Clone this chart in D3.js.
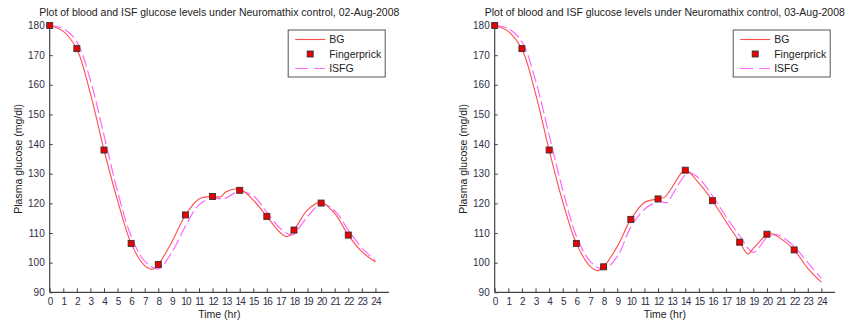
<!DOCTYPE html>
<html>
<head>
<meta charset="utf-8">
<script src="https://cdn.jsdelivr.net/npm/d3@7"></script>
<style>
  body { margin: 0; background: #fff; }
  text { font-family: "Liberation Sans", Arial, sans-serif; }
</style>
</head>
<body>
<div class="chart"></div>
<script>
// chart data
var xTickValues = [0,1,2,3,4,5,6,7,8,9,10,11,12,13,14,15,16,17,18,19,20,21,22,23,24];
var yTickValues = [90,100,110,120,130,140,150,160,170,180];
var legendLabels = ["BG", "Fingerprick", "ISFG"];
var titles = [
  "Plot of blood and ISF glucose levels under Neuromathix control, 02-Aug-2008",
  "Plot of blood and ISF glucose levels under Neuromathix control, 03-Aug-2008"
];

var fingerHours = [0,2,4,6,8,10,12,14,16,18,20,22];

// 02-Aug
var finger1 = [180,172.2,138,106.5,99.4,116.1,122.3,124.4,115.6,111,120.1,109.3];
var bgHours1 = [0,1,2,3,4,5,6,7,7.6,8,9,10,11,12,12.6,13,14,15,16,17,17.5,18,19,20,21,22,23,24];
var bg1 = [180,178,172,157,138,121,106.5,99,97.8,99.4,107,116,121.5,122.3,122.2,123.9,124.8,121.1,115.6,110.1,108.8,111,117.8,120.4,116.6,109.3,103.7,100.2];
var isfgHours1 = [0,1,2,3,4,5,6,7,8,9,10,11,12,12.8,13,14,15,16,17,17.8,18,19,20,21,22,23,24];
var isfg1 = [180,179,174.5,161.5,143,124,109,100.5,97.9,103.5,112.3,119.5,121.8,121.4,121.8,124,122.5,117,111.5,109.3,109.6,115.5,119.8,117.5,111,105,100.7];

// 03-Aug
var finger2 = [180,172.2,138,106.5,98.6,114.6,121.5,131.2,120.9,106.9,109.6,104.3];
var bgHours2 = [0,1,2,3,4,5,6,7,7.6,8,9,10,11,12,12.5,13,14,15,16,17,18,18.6,19,20,20.2,21,22,23,24];
var bg2 = [180,178,172,157,138,120.5,106.5,98.8,97.3,98.6,105.4,114.6,120.3,121.5,122.1,125.2,131.2,126.8,120.9,113.8,106.9,102.9,104.8,109.6,110,108.2,104.3,98.1,93.4];
var isfgHours2 = [0,1,2,3,4,5,6,7,8,9,10,11,12,12.7,13,14,14.3,15,16,17,18,19,20,20.5,21,22,23,24];
var isfg2 = [180,179,174.5,161.5,143,124.5,109,100.5,97.8,102,112,118,120.6,120.3,122.5,129.6,130.3,128.5,122.5,115.5,109,103.5,108.5,109.5,109,105.5,100,94.7];

var svgWidth = 847;
var svgHeight = 325;

var svg = d3.select(".chart")
  .append("svg")
  .attr("width", svgWidth)
  .attr("height", svgHeight);

function zip(xs, ys) {
  return xs.map(function(x, i) { return { t: x, v: ys[i] }; });
}

function drawChart(left, right, title, finger, bgHours, bg, isfgHours, isfg) {
  var top = 25.5, bottom = 292.3;
  var x = d3.scaleLinear().domain([0, 25]).range([left, right]);
  var y = d3.scaleLinear().domain([90, 180]).range([bottom, top]);
  var g = svg.append("g");

  // axes, ticks pointing inward like matlab
  var bottomAxis = d3.axisBottom(x).tickValues(xTickValues).tickSize(-4).tickPadding(6).tickFormat(d3.format("d"));
  var leftAxis = d3.axisLeft(y).tickValues(yTickValues).tickSize(-3).tickPadding(5).tickFormat(d3.format("d"));

  var xa = g.append("g")
    .attr("transform", "translate(0," + bottom + ")")
    .call(bottomAxis);
  var ya = g.append("g")
    .attr("transform", "translate(" + left + ",0)")
    .call(leftAxis);

  [xa, ya].forEach(function(a) {
    a.select(".domain").attr("stroke", "#444").attr("stroke-width", 1.2);
    a.selectAll(".tick line").attr("stroke", "#444");
    a.selectAll(".tick text")
      .attr("fill", "#2e2e48")
      .style("font-size", "10px");
  });
  xa.selectAll(".tick text").style("letter-spacing", "-0.9px");
  ya.select(".domain").attr("d", "M0," + bottom + "V" + top);
  xa.select(".domain").attr("d", "M" + left + ",0H" + right);

  var line = d3.line()
    .x(function(d) { return x(d.t); })
    .y(function(d) { return y(d.v); })
    .curve(d3.curveCatmullRom.alpha(0.5));

  g.append("path")
    .datum(zip(isfgHours, isfg))
    .attr("d", line)
    .attr("fill", "none")
    .attr("stroke", "#ff66ff")
    .attr("stroke-width", 1.2)
    .attr("stroke-dasharray", "12,4");

  g.append("path")
    .datum(zip(bgHours, bg))
    .attr("d", line)
    .attr("fill", "none")
    .attr("stroke", "#ff4d4d")
    .attr("stroke-width", 1.1);

  g.selectAll(".finger")
    .data(zip(fingerHours, finger))
    .enter()
    .append("rect")
    .attr("class", "finger")
    .attr("x", function(d) { return x(d.t) - 3; })
    .attr("y", function(d) { return y(d.v) - 3; })
    .attr("width", 6)
    .attr("height", 6)
    .attr("fill", "#ee0000")
    .attr("stroke", "#333")
    .attr("stroke-width", 0.9);

  // title and axis labels
  g.append("text")
    .attr("x", (left + right) / 2)
    .attr("y", 16)
    .attr("text-anchor", "middle")
    .attr("fill", "#222")
    .style("font-size", "10.5px")
    .text(title);

  g.append("text")
    .attr("x", (left + right) / 2)
    .attr("y", 318)
    .attr("text-anchor", "middle")
    .attr("fill", "#222")
    .style("font-size", "10.5px")
    .text("Time (hr)");

  g.append("text")
    .attr("transform", "translate(" + (left - 28) + "," + ((top + bottom) / 2) + ") rotate(-90)")
    .attr("text-anchor", "middle")
    .attr("fill", "#222")
    .style("font-size", "10.5px")
    .text("Plasma glucose (mg/dl)");

  // legend
  var lx = left + 238.5, ly = 30;
  var lg = g.append("g").attr("transform", "translate(" + lx + "," + ly + ")");
  lg.append("rect")
    .attr("width", 97)
    .attr("height", 47)
    .attr("fill", "#fff")
    .attr("stroke", "#555")
    .attr("stroke-width", 1);

  var rows = lg.selectAll(".row")
    .data(legendLabels)
    .enter()
    .append("g")
    .attr("transform", function(d, i) { return "translate(0," + (9.5 + i * 14.5) + ")"; });

  rows.append("text")
    .attr("x", 41)
    .attr("y", 3.7)
    .attr("fill", "#222")
    .style("font-size", "10.5px")
    .text(function(d) { return d; });

  rows.filter(function(d, i) { return i === 0; })
    .append("line")
    .attr("x1", 7).attr("x2", 37)
    .attr("stroke", "#ff4d4d").attr("stroke-width", 1.1);
  rows.filter(function(d, i) { return i === 2; })
    .append("line")
    .attr("x1", 7).attr("x2", 37)
    .attr("stroke", "#ff66ff").attr("stroke-width", 1.2)
    .attr("stroke-dasharray", "13,6");
  rows.filter(function(d, i) { return i === 1; })
    .append("rect")
    .attr("x", 19).attr("y", -3)
    .attr("width", 6).attr("height", 6)
    .attr("fill", "#ee0000").attr("stroke", "#333").attr("stroke-width", 0.9);
}

drawChart(49.7, 389, titles[0], finger1, bgHours1, bg1, isfgHours1, isfg1);
drawChart(494.7, 835, titles[1], finger2, bgHours2, bg2, isfgHours2, isfg2);
</script>
</body>
</html>
